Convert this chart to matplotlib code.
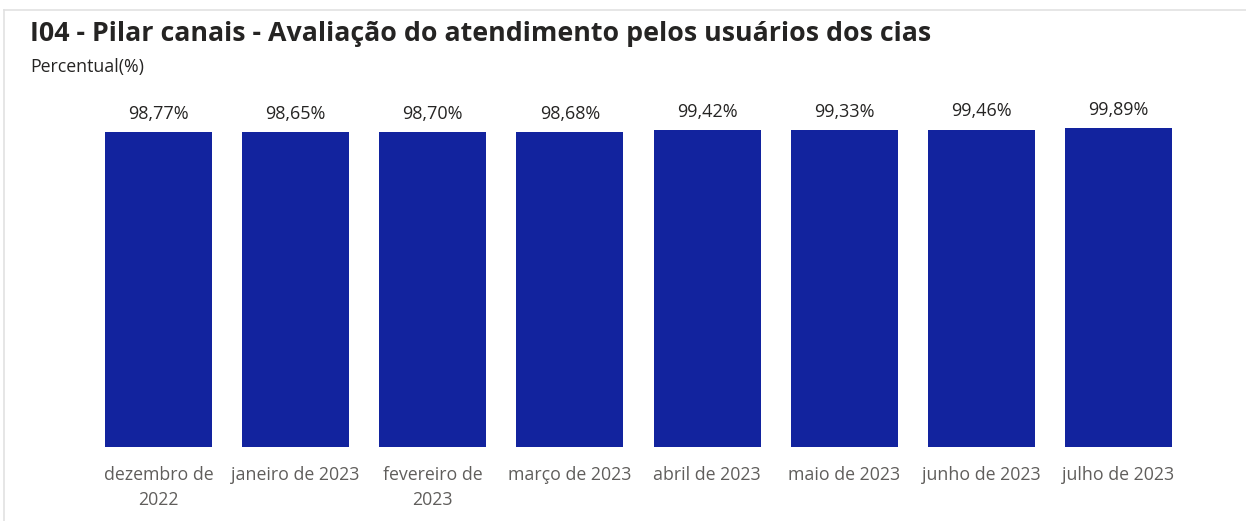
import matplotlib.pyplot as plt
from matplotlib.lines import Line2D

meses = [
    "dezembro de\n2022",
    "janeiro de 2023",
    "fevereiro de\n2023",
    "março de 2023",
    "abril de 2023",
    "maio de 2023",
    "junho de 2023",
    "julho de 2023",
]
percentuais = [98.77, 98.65, 98.70, 98.68, 99.42, 99.33, 99.46, 99.89]

plt.rcParams["font.family"] = ["Open Sans", "DejaVu Sans"]

fig = plt.figure(figsize=(12.46, 5.21), dpi=100)
ax = fig.add_axes([0.0722, 0.142, 0.8805, 0.643])

x = range(len(meses))
bars = ax.bar(x, percentuais, width=0.78, color="#12239E")
for rect, v in zip(bars, percentuais):
    ax.text(
        rect.get_x() + rect.get_width() / 2,
        v + 2.9,
        f"{v:.2f}%".replace(".", ","),
        ha="center",
        va="bottom",
        fontsize=13,
        color="#252423",
    )

ax.set_xlim(-0.5, len(meses) - 0.5)
ax.set_ylim(0, 105)
ax.set_xticks(list(x))
ax.set_xticklabels(meses, fontsize=12.8, color="#605E5C", linespacing=1.5)
ax.tick_params(axis="x", length=0, pad=14)
ax.set_yticks([])
for s in ax.spines.values():
    s.set_visible(False)

fig.text(0.024, 0.935, "I04 - Pilar canais - Avaliação do atendimento pelos usuários dos cias",
         fontsize=19.3, fontweight="bold", color="#252423", va="center")
fig.text(0.024, 0.871, "Percentual(%)", fontsize=12.8, color="#252423", va="center")

# moldura leve do cartão
fig.add_artist(Line2D([0.003, 1.0], [0.981, 0.981], color="#E1E1E1", lw=1.2))
fig.add_artist(Line2D([0.003, 0.003], [0.0, 0.981], color="#E1E1E1", lw=1.2))

fig.savefig("out.png", dpi=100)
